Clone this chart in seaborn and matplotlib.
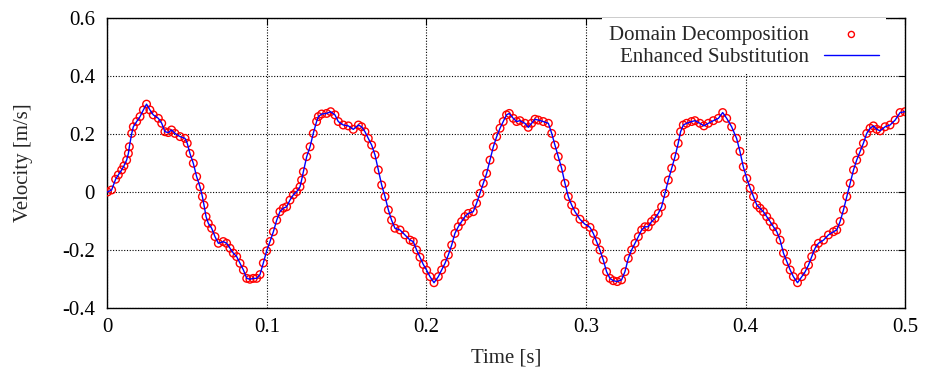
import matplotlib
matplotlib.use("Agg")
import matplotlib.pyplot as plt
import seaborn as sns
import pandas as pd

time_s = [0, .0026, .0051, .0068, .0089, .0103, .012, .0131, .0137, .0152,
          .0162, .0183, .0204, .0225, .0245, .0266, .0287, .0319, .034, .036,
          .0381, .0402, .0423, .0455, .0486, .05, .0517, .0538, .0559, .058,
          .0595, .0605, .0618, .0632, .0653, .0674, .0695, .0726, .0747, .0768,
          .0789, .081, .0831, .0852, .0873, .0893, .0914, .0935, .0956, .0977,
          .0998, .1019, .104, .1061, .1081, .1102, .1123, .1144, .1165, .1186,
          .1207, .1217, .1228, .1249, .127, .129, .1311, .1322, .1343, .1374,
          .1399, .1426, .1447, .1478, .151, .1541, .1573, .1593, .1614, .1635,
          .1656, .1677, .1698, .1719, .174, .1761, .1781, .1802, .1834, .1865,
          .1897, .1917, .1938, .1959, .198, .2001, .2022, .2047, .2074, .2095,
          .2116, .2137, .2158, .2178, .2199, .222, .2241, .2262, .2293, .2314,
          .2335, .2356, .2377, .2398, .2419, .244, .2461, .2481, .2502, .2519,
          .2544, .2565, .2586, .2617, .2638, .2659, .268, .2701, .2732, .2764,
          .2785, .2805, .2826, .2847, .2868, .2889, .291, .2931, .2962, .2993,
          .3025, .3046, .3066, .3087, .3108, .3129, .315, .3171, .3196, .3223,
          .3244, .3265, .3286, .3307, .3328, .3349, .3369, .339, .3411, .3432,
          .3453, .3474, .3495, .3516, .3537, .3558, .3578, .3593, .361, .3631,
          .3662, .3683, .3714, .3739, .3767, .3798, .383, .3857, .3882, .3913,
          .3944, .3965, .3986, .4008, .4029, .405, .4071, .4091, .4112, .4133,
          .4154, .4175, .4196, .4217, .4238, .4259, .428, .43, .4326, .4353,
          .4374, .4395, .4415, .4436, .4457, .4489, .452, .4551, .4572, .4593,
          .4614, .4635, .4656, .4677, .4697, .4718, .4739, .476, .4781, .4802,
          .4823, .4844, .4875, .4906, .4938, .4969, .5]

velocity = [0, .007, .044, .059, .076, .090, .110, .133, .156, .202,
            .225, .243, .260, .283, .303, .283, .266, .254, .237, .208,
            .205, .214, .202, .191, .185, .168, .133, .099, .053, .018,
            -.016, -.045, -.085, -.108, -.125, -.154, -.177, -.171, -.177, -.194,
            -.211, -.223, -.246, -.269, -.298, -.301, -.298, -.298, -.285, -.245,
            -.203, -.171, -.137, -.097, -.068, -.056, -.051, -.028, -.010, .001,
            .018, .041, .070, .122, .156, .202, .243, .260, .269, .271,
            .277, .266, .243, .231, .228, .216, .231, .225, .208, .185,
            .162, .128, .076, .024, -.016, -.062, -.097, -.125, -.131, -.148,
            -.166, -.171, -.200, -.225, -.250, -.270, -.292, -.313, -.292, -.269,
            -.246, -.217, -.183, -.143, -.120, -.102, -.085, -.074, -.068, -.039,
            -.005, .030, .064, .110, .156, .191, .220, .243, .266, .271,
            .254, .243, .246, .237, .223, .237, .251, .248, .243, .237,
            .202, .162, .122, .082, .030, -.016, -.045, -.068, -.094, -.111,
            -.122, -.143, -.171, -.200, -.234, -.275, -.298, -.306, -.309, -.303,
            -.275, -.229, -.200, -.177, -.154, -.131, -.120, -.120, -.102, -.091,
            -.074, -.051, -.005, .041, .082, .122, .168, .208, .231, .237,
            .243, .246, .237, .228, .237, .246, .254, .274, .254, .225,
            .185, .140, .087, .047, .013, -.016, -.045, -.056, -.068, -.085,
            -.102, -.120, -.137, -.166, -.211, -.240, -.269, -.292, -.313, -.292,
            -.275, -.252, -.223, -.194, -.177, -.166, -.148, -.137, -.131, -.102,
            -.062, -.016, .030, .076, .110, .139, .168, .202, .220, .228,
            .216, .211, .225, .231, .248, .274, .277]

series_names = ["Domain Decomposition", "Enhanced Substitution"]
x_ticks = [0, 0.1, 0.2, 0.3, 0.4, 0.5]
x_tick_labels = ["0", "0.1", "0.2", "0.3", "0.4", "0.5"]
y_ticks = [-0.4, -0.2, 0, 0.2, 0.4, 0.6]
y_tick_labels = ["-0.4", "-0.2", "0", "0.2", "0.4", "0.6"]

df = pd.DataFrame({"t": time_s, "v": velocity})

sns.set_style("white")
plt.rcParams["font.family"] = ["Liberation Serif", "DejaVu Serif"]
plt.rcParams["axes.unicode_minus"] = False

FS = 15

fig = plt.figure(figsize=(9.25, 3.76), dpi=100)
ax = fig.add_axes([0.1162, 0.181, 0.8622, 0.771])

sns.scatterplot(data=df, x="t", y="v", ax=ax, marker="o", s=30,
                facecolor="none", edgecolor="red", linewidth=1.0,
                label=series_names[0], zorder=3)
sns.lineplot(data=df, x="t", y="v", ax=ax, color="blue", linewidth=1.0,
             label=series_names[1], zorder=4, sort=False)

ax.set_xlim(0, 0.5)
ax.set_ylim(-0.4, 0.6)
ax.set_xticks(x_ticks)
ax.set_xticklabels(x_tick_labels)
ax.set_yticks(y_ticks)
ax.set_yticklabels(y_tick_labels)
ax.grid(True, color="black", linestyle=(0, (1, 1.5)), linewidth=0.8)
ax.set_axisbelow(True)
for sp in ax.spines.values():
    sp.set_color("black")
    sp.set_linewidth(1.0)
ax.tick_params(direction="in", length=5, width=0.8, top=True, right=True,
               labelsize=FS, colors="black")
ax.tick_params(axis="y", pad=9)
ax.tick_params(axis="x", pad=7)
ax.set_xlabel("Time [s]", fontsize=FS)
ax.set_ylabel("Velocity [m/s]", fontsize=FS)
ax.xaxis.set_label_coords(0.5, -0.14)
ax.yaxis.set_label_coords(-0.094, 0.5)

leg = ax.legend(loc="upper right", bbox_to_anchor=(0.9765, 1.0),
                markerfirst=False, frameon=True,
                fontsize=FS, handlelength=2.65, borderaxespad=0,
                labelspacing=0.12, handletextpad=0.7, borderpad=0.35,
                markerscale=0.8)
leg.get_frame().set_facecolor("white")
leg.get_frame().set_edgecolor("none")
leg.get_frame().set_alpha(1.0)
leg.get_frame().set_boxstyle("square", pad=0)

fig.savefig("out.png", dpi=100)
